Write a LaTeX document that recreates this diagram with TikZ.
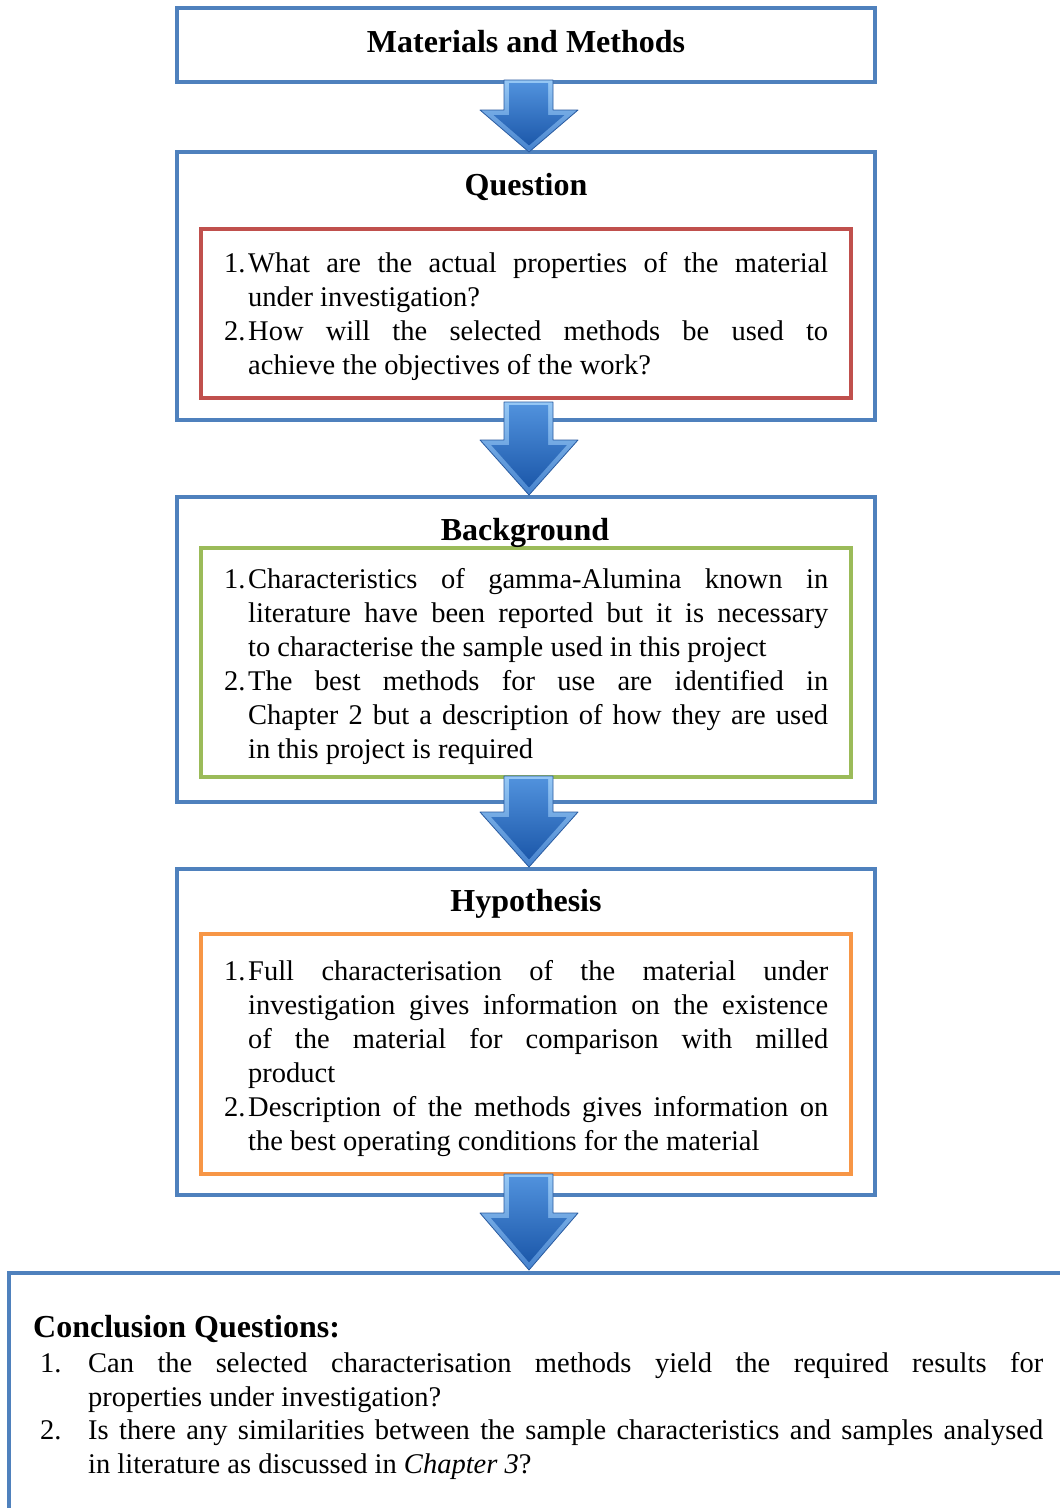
\documentclass[tikz,border=0pt]{standalone}
\usepackage{fontspec}
\setmainfont{Liberation Serif}
\usetikzlibrary{calc}

\definecolor{boxblue}{RGB}{79,129,189}
\definecolor{boxred}{RGB}{192,80,77}
\definecolor{boxgreen}{RGB}{155,187,89}
\definecolor{boxorange}{RGB}{247,150,70}
\definecolor{arrowhi}{RGB}{150,200,245}
\definecolor{arrowlo}{RGB}{70,130,205}
\definecolor{arrowmid}{RGB}{80,145,220}
\definecolor{arrowdeep}{RGB}{28,88,170}
\definecolor{arrowedge}{RGB}{40,90,160}

% numbered paragraph: label #2 hanging in a slot of width #1, body #3
\newcommand\numitem[3]{\parindent=0pt\tolerance=10000\hyphenpenalty=10000\exhyphenpenalty=10000%
  \hangindent=#1\hangafter=1\noindent\makebox[#1][l]{#2}#3\par}

% bevelled block arrow pointing down: #1 top, #2 start of head, #3 tip
\newcommand\blockarrow[3]{%
  \pgfmathsetmacro\ahh{#3-#2}%
  \pgfmathsetmacro\aslant{sqrt(49*49+\ahh*\ahh)}%
  \pgfmathsetmacro\atipin{#3-5*\aslant/49}%
  \pgfmathsetmacro\awingin{49-49*5/\ahh-5*\aslant/\ahh}%
  \shade[top color=arrowhi, bottom color=arrowlo, draw=arrowedge, line width=0.8pt, line join=round]
    (504,#1) -- (553,#1) -- (553,#2) -- (578,#2) -- (529,#3) -- (480,#2) -- (504,#2) -- cycle;
  \shade[top color=arrowmid, bottom color=arrowdeep]
    (509,#1+3) -- (548,#1+3) -- (548,#2+5) -- ({529+\awingin},#2+5) -- (529,\atipin)
    -- ({529-\awingin},#2+5) -- (509,#2+5) -- cycle;
}

\tikzset{
  framebox/.style={draw=#1, line width=4pt, anchor=north west, outer sep=0pt, inner sep=0pt, fill=white},
  titletext/.style={font=\fontsize{32}{38}\selectfont\bfseries, inner sep=0pt, anchor=base},
  listtext/.style={font=\fontsize{28.5}{34}\selectfont, inner sep=0pt, anchor=base west,
    text width=#1, align=justify},
}

\begin{document}
\begin{tikzpicture}[x=1pt, y=-1pt]
\fill[white] (0,0) rectangle (1060,1508);
\useasboundingbox (0,0) rectangle (1060,1508);

% outer frames
\node[framebox=boxblue, minimum width=698pt, minimum height=74pt] (mmbox) at (177,8) {};
\node[framebox=boxblue, minimum width=698pt, minimum height=268pt] (qbox) at (177,152) {};
\node[framebox=boxblue, minimum width=698pt, minimum height=305pt] (bgbox) at (177,497) {};
\node[framebox=boxblue, minimum width=698pt, minimum height=326pt] (hybox) at (177,869) {};

% inner frames
\node[framebox=boxred, minimum width=650pt, minimum height=169pt] (redbox) at (201,229) {};
\node[framebox=boxgreen, minimum width=650pt, minimum height=229pt] (greenbox) at (201,548) {};
\node[framebox=boxorange, minimum width=650pt, minimum height=240pt] (orangebox) at (201,934) {};

% conclusion frame, running off the page
\begin{scope}
  \clip (0,0) rectangle (1060,1508);
  \node[framebox=boxblue, minimum width=1071pt, minimum height=257pt] (conbox) at (9,1273) {};
\end{scope}

% titles
\node[titletext] (mmtitle) at (526,52) {Materials and Methods};
\node[titletext] (qtitle) at (526,195) {Question};
\node[titletext] (bgtitle) at (525,540) {Background};
\node[titletext] (hytitle) at (526,911) {Hypothesis};
\node[titletext, anchor=base west] (contitle) at (33,1337) {Conclusion Questions:};

% numbered items, one paragraph per node
\node[listtext=604pt] (q1) at (224,272) {\numitem{24pt}{1.}{What are the actual
  properties of the material\linebreak under investigation?}};
\node[listtext=604pt] (q2) at (224,340) {\numitem{24pt}{2.}{How will the selected
  methods be used to\linebreak achieve the objectives of the work?}};

\node[listtext=604pt] (b1) at (224,588) {\numitem{24pt}{1.}{Characteristics of
  gamma-Alumina known in\linebreak literature have been reported but it is
  necessary\linebreak to characterise the sample used in this project}};
\node[listtext=604pt] (b2) at (224,690) {\numitem{24pt}{2.}{The best methods for use
  are identified in\linebreak Chapter 2 but a description of how they are
  used\linebreak in this project is required}};

\node[listtext=604pt] (h1) at (224,980) {\numitem{24pt}{1.}{Full characterisation of
  the material under\linebreak investigation gives information on the
  existence\linebreak of the material for comparison with milled\linebreak product}};
\node[listtext=604pt] (h2) at (224,1116) {\numitem{24pt}{2.}{Description of the
  methods gives information on\linebreak the best operating conditions for the material}};

\node[listtext=1003pt] (c1) at (40,1372) {\numitem{48pt}{1.}{Can the selected
  characterisation methods yield the required results for\linebreak properties under
  investigation?}};
\node[listtext=1003pt] (c2) at (40,1439) {\numitem{48pt}{2.}{Is there any
  similarities between the sample characteristics and samples analysed\linebreak in
  literature as discussed in \textit{Chapter 3}?}};

% block arrows between the stages
\blockarrow{80}{110}{152}
\blockarrow{402}{440}{495}
\blockarrow{776}{812}{867}
\blockarrow{1174}{1213}{1270}
\end{tikzpicture}
\end{document}
